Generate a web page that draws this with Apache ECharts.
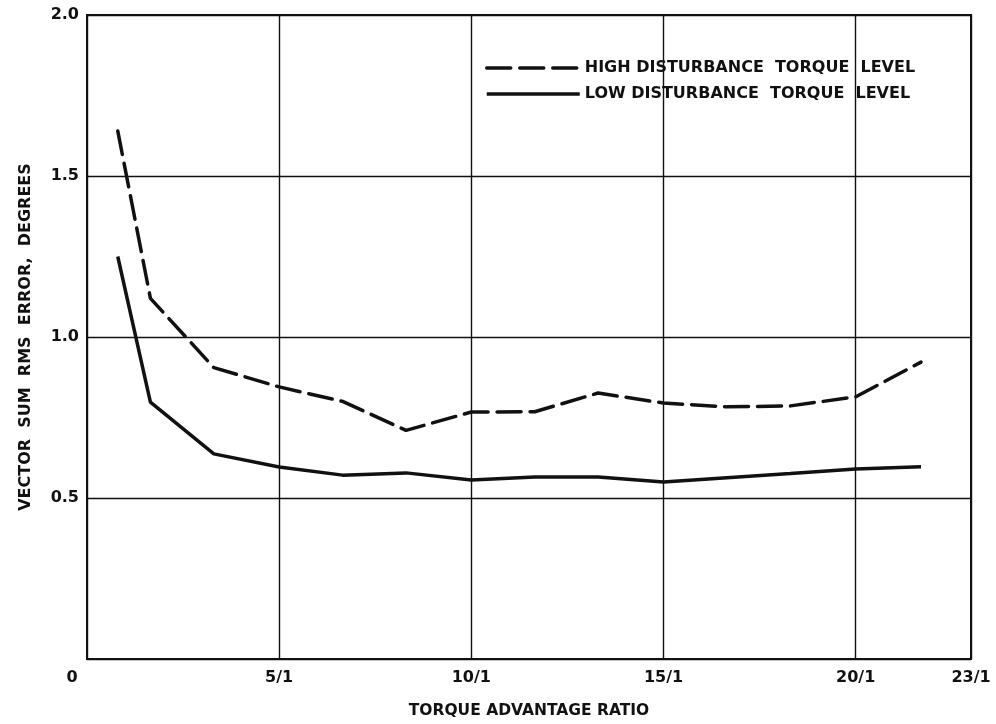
<!DOCTYPE html>
<html>
<head>
<meta charset="utf-8">
<script src="https://cdn.jsdelivr.net/npm/echarts@6/dist/echarts.min.js"></script>
<style>
html,body{margin:0;padding:0;background:#fff;}
#chart{width:996px;height:724px;}
</style>
</head>
<body>
<div id="chart"></div>
<script>
// Torque advantage ratio (x)
const ratio = [0.8, 1.65, 3.3, 5.0, 6.65, 8.3, 10.0, 11.65, 13.3, 15.0, 16.65, 18.3, 20.0, 21.7];
// High disturbance torque level (dashed)
const highLevel = [1.64, 1.12, 0.905, 0.845, 0.80, 0.71, 0.767, 0.768, 0.826, 0.795, 0.783, 0.786, 0.814, 0.922];
// Low disturbance torque level (solid)
const lowLevel = [1.25, 0.798, 0.637, 0.596, 0.571, 0.578, 0.556, 0.565, 0.565, 0.550, 0.563, 0.576, 0.590, 0.597];
const xTicks = [0, 5, 10, 15, 20, 23];
const yTicks = [0.5, 1.0, 1.5, 2.0];
const seriesNames = ['HIGH DISTURBANCE  TORQUE  LEVEL', 'LOW DISTURBANCE  TORQUE  LEVEL'];
const xTitle = 'TORQUE ADVANTAGE RATIO';
const yTitle = 'VECTOR  SUM  RMS  ERROR,  DEGREES';

const FONT = 'DejaVu Sans';
const INK = '#111';
const pairs = (xs, ys) => xs.map((x, i) => [x, ys[i]]);

const chart = echarts.init(document.getElementById('chart'), null, {renderer: 'canvas'});
chart.setOption({
  backgroundColor: '#fff',
  animation: false,
  grid: {
    left: 87, right: 25, top: 15, bottom: 65,
    show: true, borderColor: INK, borderWidth: 2, backgroundColor: 'transparent'
  },
  legend: {
    orient: 'vertical',
    left: 480, top: 55,
    itemWidth: 93, itemHeight: 14, itemGap: 10,
    itemStyle: {opacity: 0, borderWidth: 0},
    lineStyle: {width: 3.5},
    textStyle: {fontFamily: FONT, fontWeight: 'bold', fontSize: 16, color: INK},
    data: seriesNames
  },
  xAxis: {
    type: 'value', min: 0, max: 23, interval: 5,
    name: xTitle, nameLocation: 'middle', nameGap: 44,
    nameTextStyle: {fontFamily: FONT, fontWeight: 'bold', fontSize: 15.5, color: INK},
    axisLine: {show: true, lineStyle: {color: INK, width: 2}},
    axisTick: {show: false},
    splitLine: {show: true, lineStyle: {color: INK, width: 1.4}},
    axisLabel: {
      margin: 11, fontFamily: FONT, fontWeight: 'bold', fontSize: 16, color: INK,
      formatter: v => xTicks.includes(v) ? (v === 0 ? '{z|0}' : v + '/1') : '',
      rich: {z: {fontFamily: FONT, fontWeight: 'bold', fontSize: 16, color: INK, padding: [0, 30, 0, 0]}}
    }
  },
  yAxis: {
    type: 'value', min: 0, max: 2, interval: 0.5,
    name: yTitle, nameLocation: 'middle', nameGap: 53, nameRotate: 90,
    nameTextStyle: {fontFamily: FONT, fontWeight: 'bold', fontSize: 16, color: INK},
    axisLine: {show: true, lineStyle: {color: INK, width: 2}},
    axisTick: {show: false},
    splitLine: {show: true, lineStyle: {color: INK, width: 1.4}},
    axisLabel: {
      margin: 8, fontFamily: FONT, fontWeight: 'bold', fontSize: 16, color: INK,
      showMinLabel: false,
      formatter: v => yTicks.includes(v) ? v.toFixed(1) : ''
    }
  },
  series: [
    {
      name: seriesNames[0], type: 'line', symbol: 'none',
      data: pairs(ratio, highLevel),
      lineStyle: {color: INK, width: 3.5, type: [24, 9], cap: 'round'},
      itemStyle: {color: INK}
    },
    {
      name: seriesNames[1], type: 'line', symbol: 'none',
      data: pairs(ratio, lowLevel),
      lineStyle: {color: INK, width: 3.5, type: 'solid'},
      itemStyle: {color: INK}
    }
  ]
});
</script>
</body>
</html>
